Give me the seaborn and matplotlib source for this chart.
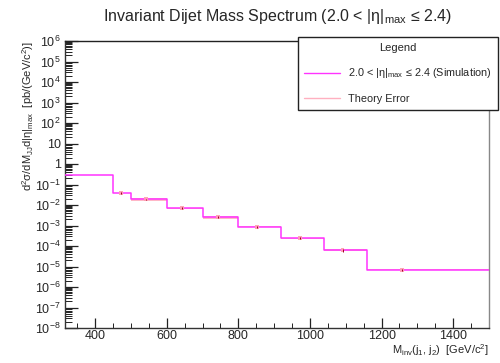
import numpy as np
import pandas as pd
import matplotlib
matplotlib.use("Agg")
import matplotlib.pyplot as plt
import seaborn as sns
from matplotlib.ticker import LogLocator, MultipleLocator, FuncFormatter
from matplotlib.lines import Line2D

# ---------------- data ----------------
bin_edges = [300, 450, 500, 600, 700, 800, 920, 1040, 1160, 1500]
cross_section = [0.29, 0.0385, 0.0187, 0.0071, 0.0025, 8.7e-4, 2.45e-4, 6.3e-5, 6.9e-6]
theory_rel_err = [0.04, 0.05, 0.15, 0.06, 0.15, 0.06, 0.06, 0.12, 0.04]
point_mass = [472, 542, 642, 742, 851, 973, 1091, 1257]
point_value = [0.0385, 0.0187, 0.0071, 0.0025, 8.7e-4, 2.45e-4, 6.3e-5, 6.9e-6]
point_rel_err = [0.10, 0.10, 0.12, 0.12, 0.12, 0.12, 0.15, 0.10]

title = r"Invariant Dijet Mass Spectrum (2.0 < |η|$_{\mathrm{max}}$ ≤ 2.4)"
series_label = r"2.0 < |η|$_{\mathrm{max}}$ ≤ 2.4 (Simulation)"
theory_label = "Theory Error"
xlabel = r"M$_{\mathrm{inv}}$(j$_{1}$, j$_{2}$)  [GeV/c$^{2}$]"
ylabel = r"d$^{2}$σ/dM$_{\mathrm{JJ}}$d|η|$_{\mathrm{max}}$  [pb/(GeV/c$^{2}$)]"

# ---------------- style ----------------
sns.set_theme(style="white")
plt.rcParams["font.family"] = ["Liberation Sans", "DejaVu Sans"]
plt.rcParams["mathtext.fontset"] = "custom"
plt.rcParams["mathtext.rm"] = "Liberation Sans"
plt.rcParams["mathtext.it"] = "Liberation Sans:italic"
plt.rcParams["mathtext.sf"] = "Liberation Sans"

MAGENTA = "#ff33ff"
PINK = "#ffb0c0"

fig = plt.figure(figsize=(5.0, 3.63), dpi=100)
ax = fig.add_axes([65 / 500, 1 - 328 / 363, (489 - 65) / 500, (328 - 41) / 363])

# step data
step_x = bin_edges
step_y = cross_section + [cross_section[-1]]
df = pd.DataFrame({"mass": step_x, "xs": step_y})

lo = np.array(cross_section) * (1 - np.array(theory_rel_err))
hi = np.array(cross_section) * (1 + np.array(theory_rel_err))
ax.fill_between(bin_edges, list(lo) + [lo[-1]], list(hi) + [hi[-1]],
                step="post", color=PINK, alpha=0.9, lw=0, zorder=1)

sns.lineplot(data=df, x="mass", y="xs", ax=ax, drawstyle="steps-post",
             color=MAGENTA, lw=1.1, estimator=None, sort=False, zorder=3)

pv = np.array(point_value)
perr = pv * np.array(point_rel_err)
sns.scatterplot(x=point_mass, y=point_value, ax=ax, marker="s", s=8,
                color="#ff9fb3", edgecolor="none", alpha=0.95, zorder=4)
ax.errorbar(point_mass, point_value, yerr=perr, fmt="none",
            ecolor="#990022", elinewidth=0.7, capsize=0, zorder=5)

ax.set_yscale("log")
ax.set_xlim(316, 1500)
ax.set_ylim(1e-8, 1e6)

# ticks
ax.yaxis.set_major_locator(LogLocator(base=10, numticks=30))
ax.yaxis.set_minor_locator(LogLocator(base=10, subs=np.arange(2, 10), numticks=300))

def yfmt(v, pos):
    e = int(round(np.log10(v)))
    if e == 0:
        return "1"
    if e == 1:
        return "10"
    return r"10$^{%d}$" % e

ax.yaxis.set_major_formatter(FuncFormatter(yfmt))
ax.xaxis.set_major_locator(MultipleLocator(200))
ax.xaxis.set_minor_locator(MultipleLocator(50))

ax.tick_params(axis="y", which="major", direction="in", length=9, width=0.9,
               labelsize=9, color="#222222", pad=3, left=True)
ax.tick_params(axis="y", which="minor", direction="in", length=5, width=0.7,
               color="#222222", left=True)
ax.tick_params(axis="x", which="major", direction="in", length=7, width=0.9,
               labelsize=9, color="#222222", pad=1.5, bottom=True)
ax.tick_params(axis="x", which="minor", direction="in", length=3.5, width=0.7,
               color="#222222", bottom=True)

for s in ["left", "bottom"]:
    ax.spines[s].set_color("#333333")
    ax.spines[s].set_linewidth(1.0)
ax.spines["top"].set_color("#222222")
ax.spines["top"].set_linewidth(1.0)
ax.spines["right"].set_color("#888888")
ax.spines["right"].set_linewidth(1.0)

ax.set_xlabel(xlabel, loc="right", fontsize=8, labelpad=0)
ax.set_ylabel(ylabel, loc="top", fontsize=8)
ax.yaxis.set_label_coords(-0.068, 1.0)
fig.text(277 / 500, 1 - 17 / 363, title, ha="center", va="center", fontsize=11.5)

handles = [Line2D([], [], color=MAGENTA, lw=1.0),
           Line2D([], [], color=PINK, lw=1.0)]
leg = fig.legend(handles, [series_label, theory_label], title="Legend",
                 loc="upper left", bbox_to_anchor=(298 / 500, 1 - 37 / 363),
                 fontsize=7.8, title_fontsize=8, frameon=True, fancybox=False,
                 edgecolor="#222222", framealpha=1.0, handlelength=3.3,
                 handletextpad=0.8, borderpad=0.55, labelspacing=1.25,
                 borderaxespad=0)
leg.get_frame().set_linewidth(1.0)
leg.set_zorder(10)

fig.savefig("out.png", dpi=100)
